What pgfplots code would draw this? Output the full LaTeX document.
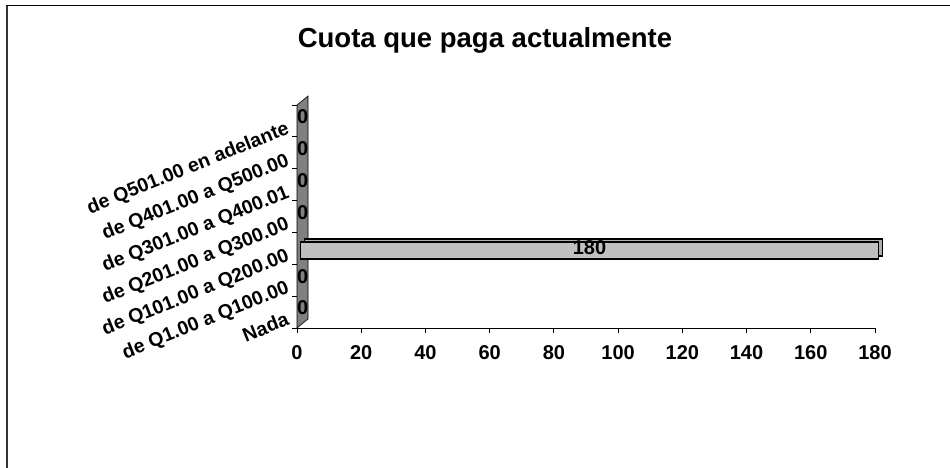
\documentclass[border=0pt]{standalone}
\usepackage{fontspec}
\setmainfont{Liberation Sans}
\usepackage{pgfplots}
\pgfplotsset{compat=1.18}
\definecolor{barfill}{RGB}{192,192,192}
\definecolor{wallfill}{RGB}{128,128,128}

\begin{document}
\begin{tikzpicture}[x=1pt,y=1pt]
\path[use as bounding box] (0,0) rectangle (950,467);
% chart area frame (only left and top edges are visible)
\draw[line width=1.8pt, black!80] (7,-10) -- (7,461);
\draw[line width=1pt] (6,461) -- (960,461);
\node[font=\fontsize{27.5}{30}\selectfont\bfseries, anchor=base] at (485,419) {Cuota que paga actualmente};

\begin{axis}[
  at={(297pt,139pt)}, anchor=south west,
  scale only axis, width=578pt, height=223pt,
  xmin=0, xmax=180, ymin=-0.5, ymax=6.5,
  clip=false,
  axis x line*=bottom, axis y line*=left,
  axis line style={-, black, line width=0.8pt},
  tick align=outside, major tick length=5pt,
  tick style={black, line width=0.8pt},
  xtick={0,20,...,180},
  ytick={-0.5,0.5,...,6.5}, yticklabels={},
  extra y ticks={0,1,2,3,4,5,6},
  extra y tick labels={Nada,de Q1.00 a Q100.00,de Q101.00 a Q200.00,de Q201.00 a Q300.00,de Q301.00 a Q400.01,de Q401.00 a Q500.00,de Q501.00 en adelante},
  extra y tick style={major tick length=0pt,
    yticklabel style={xshift=-12pt, yshift=1pt, rotate=22, anchor=north east, inner sep=0pt,
      font=\fontsize{19.5}{21}\selectfont\bfseries}},
  /pgf/number format/assume math mode=true,
  ticklabel style={font=\fontsize{20}{22}\selectfont\bfseries},
  xticklabel style={anchor=base, inner sep=0pt, yshift=-26pt},
  nodes near coords style={font=\fontsize{20}{22}\selectfont\bfseries, inner sep=0pt},
]
% back wall
\fill[wallfill, draw=black, line width=0.6pt]
  (axis cs:0,-0.5) -- (axis cs:0,6.5) -- ([shift={(11pt,9pt)}]axis cs:0,6.5)
  -- ([shift={(11pt,9pt)}]axis cs:0,-0.5) -- cycle;

% 3D bar: back face then front face
\addplot[xbar, bar width=17pt, bar shift=1pt, xshift=7.5pt,
  fill=barfill!90!black, draw=black, line width=1.3pt] coordinates {(180,2)};
\addplot[xbar, bar width=17pt, bar shift=-2pt, xshift=3.5pt,
  fill=barfill, draw=black, line width=1.3pt] coordinates {(180,2)};

% value labels
\addplot[only marks, mark=*, mark size=0pt, mark options={draw=none, fill=none},
  nodes near coords, point meta=x,
  every node near coord/.append style={anchor=west, xshift=0pt, yshift=4pt}]
  coordinates {(0,0) (0,1) (0,3) (0,4) (0,5) (0,6)};
\addplot[only marks, mark=*, mark size=0pt, mark options={draw=none, fill=none},
  nodes near coords, point meta=x,
  every node near coord/.append style={anchor=center, xshift=-285.5pt, yshift=1pt}]
  coordinates {(180,2)};
\end{axis}
\end{tikzpicture}
\end{document}
